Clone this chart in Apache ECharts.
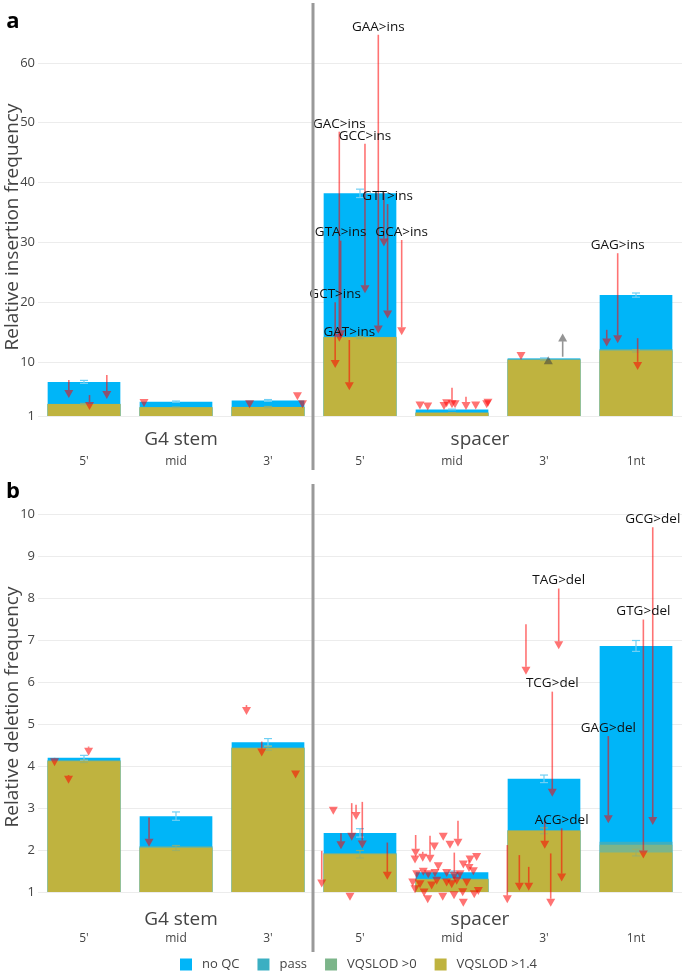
<!DOCTYPE html>
<html><head><meta charset="utf-8">
<script src="https://cdn.jsdelivr.net/npm/echarts@6/dist/echarts.min.js"></script>
<style>html,body{margin:0;padding:0;background:#fff}#c{width:685px;height:974px}</style>
</head><body><div id="c"></div>
<script>
// ---------- data ----------
const categories = ["5'", "mid", "3'", "5'", "mid", "3'", "1nt"];
const seriesNames = ['no QC', 'pass', 'VQSLOD >0', 'VQSLOD >1.4'];

// panel a: insertions
const insTicks = [1, 10, 20, 30, 40, 50, 60];
const insNoQC = [6.7, 3.4, 3.6, 38.2, 2.1, 10.6, 21.2];
const insPass = [3.05, 2.47, 2.55, 14.25, 1.57, 10.55, 12.2];
const insVq0  = [3.02, 2.46, 2.52, 14.2, 1.56, 10.45, 12.05];
const insVq14 = [3.0, 2.45, 2.5, 14.15, 1.55, 10.36, 11.9];
const insErrNoQC = [0.25, 0.1, 0.15, 0.7, 0.05, 0.1, 0.35];
const insErrVq14 = [0.1, 0.05, 0.1, 0.2, 0.03, 0.1, 0.2];

const insArrCat  = [0, 0, 0, 1, 2, 2, 2, 3, 3, 3, 3, 3, 3, 3, 3, 3, 4, 4, 4, 4, 4, 4, 4, 4, 4, 4, 5, 5, 5, 6, 6, 6];
const insArrOff  = [-0.165, 0.248, 0.06, -0.348, -0.2, 0.32, 0.375, -0.225, 0.054, 0.199, 0.30, 0.26, -0.21, -0.27, 0.453, -0.116, 0.0, 0.152, -0.348, -0.264, -0.087, -0.058, 0.033, 0.258, 0.377, 0.391, -0.25, 0.203, 0.047, -0.199, -0.318, 0.018];
const insArrFrom = [7.0, 7.85, 4.5, 3.6, 3.2, 4.8, 3.3, 48.5, 46.5, 64.7, 36.4, 38.3, 30.3, 20.0, 30.4, 13.7, 5.7, 4.2, 3.3, 3.1, 3.2, 3.6, 3.5, 3.3, 3.5, 3.7, 11.0, 10.9, 10.3, 28.2, 15.4, 14.0];
const insArrTo   = [4.0, 3.85, 2.0, 2.5, 2.3, 3.65, 2.3, 13.4, 21.5, 14.8, 17.3, 29.3, 14.0, 9.0, 14.5, 5.3, 2.3, 2.0, 2.1, 1.9, 2.0, 2.45, 2.3, 2.1, 2.3, 2.55, 10.36, 14.8, 11.0, 13.15, 12.6, 8.7];
const insArrLabel = ['', '', '', '', '', '', '', 'GAC>ins', 'GCC>ins', 'GAA>ins', 'GTT>ins', '', 'GTA>ins', 'GCT>ins', 'GCA>ins', 'GAT>ins', '', '', '', '', '', '', '', '', '', '', '', '', '', 'GAG>ins', '', ''];

// panel b: deletions
const delTicks = [1, 2, 3, 4, 5, 6, 7, 8, 9, 10];
const delNoQC = [4.2, 2.81, 4.57, 2.41, 1.47, 3.7, 6.87];
const delPass = [4.15, 2.09, 4.45, 1.93, 1.32, 2.48, 2.2];
const delVq0  = [4.13, 2.08, 4.44, 1.92, 1.31, 2.47, 2.13];
const delVq14 = [4.12, 2.05, 4.43, 1.9, 1.3, 2.46, 1.94];
const delErrNoQC = [0.06, 0.1, 0.09, 0.1, 0.03, 0.09, 0.13];
const delErrVq14 = [0.03, 0.06, 0.05, 0.09, 0.02, 0.07, 0.08];

const delArrCat  = [0, 0, 0, 1, 2, 2, 2, 3, 3, 3, 3, 3, 3, 3, 3,
  4, 4, 4, 4, 4, 4, 4, 4, 4, 4, 4, 4, 4, 4, 4, 4, 4, 4, 4, 4, 4, 4, 4, 4, 4, 4, 4, 4, 4, 4, 4, 4, 4, 4, 4, 4, 4, 4,
  5, 5, 5, 5, 5, 5, 5, 5, 5, 6, 6, 6];
const delArrOff  = [-0.32, -0.168, 0.05, -0.293, -0.234, -0.068, 0.3, -0.29, -0.416, -0.207, -0.09, -0.043, 0.025, 0.297, -0.109,
  -0.395, -0.318, -0.239, 0.065, 0.025, 0.185, -0.095, -0.022, -0.192, 0.268, 0.196, 0.123, -0.149, -0.402, -0.312, 0.232, -0.402, -0.304, -0.264, -0.101, 0.022, 0.123, 0.116, 0.242, 0.286, -0.427, -0.348, -0.221, -0.166, -0.058, -0.003, 0.051, 0.087, 0.16, -0.384, -0.258, -0.058, -0.185,
  0.16, -0.196, 0.09, 0.008, 0.192, -0.399, -0.268, -0.166, 0.073, 0.182, 0.08, -0.301];
const delArrFrom = [4.2, 3.79, 4.47, 2.78, 5.46, 4.59, 3.83, 2.98, 1.98, 2.4, 3.12, 3.08, 3.15, 2.18, 0.95,
  2.36, 1.96, 2.34, 2.70, 1.94, 1.76, 2.37, 2.18, 2.14, 1.89, 1.83, 1.71, 1.67, 1.83, 1.54, 1.55, 1.12, 1.04, 0.88, 0.94, 0.98, 0.80, 1.05, 1.00, 1.08, 1.28, 1.24, 1.21, 1.32, 1.28, 1.24, 1.32, 1.48, 1.28, 1.48, 1.48, 1.51, 1.51,
  8.24, 7.39, 5.78, 2.72, 2.52, 2.12, 1.88, 1.6, 1.92, 9.7, 7.5, 4.72];
const delArrTo   = [4.0, 3.58, 4.25, 2.08, 5.22, 4.23, 3.71, 2.84, 1.11, 2.02, 2.22, 2.72, 2.04, 1.29, 0.79,
  1.84, 1.72, 1.70, 2.08, 1.29, 1.48, 2.22, 2.03, 1.99, 1.74, 1.68, 1.56, 1.52, 1.68, 1.39, 1.40, 0.97, 0.89, 0.73, 0.79, 0.83, 0.65, 0.90, 0.85, 0.93, 1.13, 1.09, 1.06, 1.17, 1.13, 1.09, 1.17, 1.33, 1.13, 1.33, 1.33, 1.36, 1.36,
  6.79, 6.18, 3.27, 2.03, 1.25, 0.73, 1.03, 1.03, 0.65, 2.6, 1.8, 2.64];
const delArrLabel = delArrCat.map(() => '');
delArrLabel[53] = 'TAG>del'; delArrLabel[55] = 'TCG>del'; delArrLabel[57] = 'ACG>del';
delArrLabel[62] = 'GCG>del'; delArrLabel[63] = 'GTG>del'; delArrLabel[64] = 'GAG>del';

// ---------- styling ----------
const FONT = '"Open Sans", sans-serif';
const COLORS = ['#00B5F8', '#3BAFC2', '#7CB58A', '#BFB33F'];

function arrowRenderer() {
  return function (params, api) {
    const c = api.value(0), off = api.value(1), from = api.value(2), to = api.value(3);
    const p0 = api.coord([c, from]);
    const p1 = api.coord([c, to]);
    const bw = api.coord([1, from])[0] - api.coord([0, from])[0];
    const x = p0[0] + off * bw;
    const y0 = p0[1], y1 = p1[1];
    const up = to > from;
    const color = up ? 'rgba(60,60,60,0.55)' : 'rgba(255,0,0,0.55)';
    const dir = up ? -1 : 1;
    const hh = 8, hw = 4.5;
    const base = y1 - dir * hh;
    const children = [];
    if ((y1 - y0) * dir > hh) {
      children.push({ type: 'line', shape: { x1: x, y1: y0, x2: x, y2: base }, style: { stroke: color, lineWidth: 1.6 } });
    }
    children.push({ type: 'polygon', shape: { points: [[x - hw, base], [x + hw, base], [x, y1]] }, style: { fill: color } });
    return { type: 'group', children };
  };
}
function labelRenderer(labels) {
  return function (params, api) {
    const lab = labels[params.dataIndex];
    if (!lab) return null;
    const c = api.value(0), off = api.value(1), from = api.value(2);
    const p0 = api.coord([c, from]);
    const bw = api.coord([1, from])[0] - api.coord([0, from])[0];
    const x = p0[0] + off * bw;
    return { type: 'text', x: x, y: p0[1] - 8, style: { text: lab, fill: '#111', fontSize: 13.5, fontFamily: FONT, align: 'center', verticalAlign: 'middle' } };
  };
}
function errRenderer(color) {
  return function (params, api) {
    const c = api.value(0);
    const lo = api.coord([c, api.value(1)]);
    const hi = api.coord([c, api.value(2)]);
    const x = lo[0];
    const st = { stroke: color, lineWidth: 1.2 };
    return { type: 'group', children: [
      { type: 'line', shape: { x1: x, y1: lo[1], x2: x, y2: hi[1] }, style: st },
      { type: 'line', shape: { x1: x - 4, y1: hi[1], x2: x + 4, y2: hi[1] }, style: st },
      { type: 'line', shape: { x1: x - 4, y1: lo[1], x2: x + 4, y2: lo[1] }, style: st }
    ] };
  };
}

function panelSeries(idx, layers, errNoQC, errVq14, aCat, aOff, aFrom, aTo, aLab) {
  const out = [];
  layers.forEach((vals, k) => {
    out.push({
      name: seriesNames[k], type: 'bar', xAxisIndex: idx, yAxisIndex: idx,
      data: vals, barWidth: '79%', barGap: '-100%', clip: true,
      itemStyle: { color: COLORS[k] }, emphasis: { disabled: true }, z: 2
    });
  });
  const noqc = layers[0], vq = layers[3];
  out.push({ type: 'custom', name: 'err1_' + idx, xAxisIndex: idx, yAxisIndex: idx, z: 3,
    renderItem: errRenderer('#6FCFF4'),
    data: noqc.map((v, i) => [i, v - errNoQC[i], v + errNoQC[i]]) });
  out.push({ type: 'custom', name: 'err2_' + idx, xAxisIndex: idx, yAxisIndex: idx, z: 3,
    renderItem: errRenderer('rgba(150,175,110,0.8)'),
    data: vq.map((v, i) => [i, v - errVq14[i], v + errVq14[i]]) });
  const arrData = aCat.map((c, i) => [c, aOff[i], aFrom[i], aTo[i]]);
  out.push({ type: 'custom', name: 'arrows_' + idx, xAxisIndex: idx, yAxisIndex: idx, z: 5, clip: false,
    renderItem: arrowRenderer(), data: arrData });
  out.push({ type: 'custom', name: 'labels_' + idx, xAxisIndex: idx, yAxisIndex: idx, z: 6, clip: false,
    renderItem: labelRenderer(aLab), data: arrData });
  return out;
}

const xAxisBase = (idx, margin) => ({
  gridIndex: idx, type: 'category', data: categories,
  axisLine: { show: false }, axisTick: { show: false },
  axisLabel: { color: '#444', fontSize: 12, fontFamily: FONT, margin: margin }
});
const yAxisBase = (idx, max, ticks) => ({
  gridIndex: idx, type: 'value', min: 1, max: max,
  axisLine: { show: false }, axisTick: { show: false, customValues: ticks },
  axisLabel: { customValues: ticks, color: '#444', fontSize: 13, fontFamily: FONT, margin: 3 },
  splitLine: { show: true, lineStyle: { color: '#ECECEC', width: 1 } }
});

const gtext = (x, y, text, size, extra) => Object.assign({
  type: 'text', x: x, y: y,
  style: { text: text, fill: '#444', fontSize: size, fontFamily: FONT, align: 'center', verticalAlign: 'middle' }
}, extra || {});

const option = {
  backgroundColor: '#fff',
  animation: false,
  grid: [
    { left: 38, right: 3, top: 3, bottom: 558 },
    { left: 38, right: 3, top: 485.4, bottom: 82 }
  ],
  xAxis: [xAxisBase(0, 40), xAxisBase(1, 41)],
  yAxis: [yAxisBase(0, 70, insTicks), yAxisBase(1, 10.7, delTicks)],
  legend: {
    data: seriesNames, left: 180, top: 958, padding: 0, itemWidth: 12, itemHeight: 12, itemGap: 18,
    icon: 'rect', selectedMode: false,
    textStyle: { color: '#444', fontSize: 13, fontFamily: FONT, padding: [0, 0, 0, 5] }
  },
  graphic: [
    gtext(13, 22, 'a', 22, { style: { text: 'a', fill: '#000', fontSize: 22, fontWeight: 'bold', fontFamily: FONT, align: 'center', verticalAlign: 'middle' } }),
    gtext(13, 492, 'b', 22, { style: { text: 'b', fill: '#000', fontSize: 22, fontWeight: 'bold', fontFamily: FONT, align: 'center', verticalAlign: 'middle' } }),
    gtext(13, 227, 'Relative insertion frequency', 19, { rotation: Math.PI / 2 }),
    gtext(13, 707, 'Relative deletion frequency', 19, { rotation: Math.PI / 2 }),
    gtext(181, 440, 'G4 stem', 19),
    gtext(480, 440, 'spacer', 19),
    gtext(181, 920, 'G4 stem', 19),
    gtext(480, 920, 'spacer', 19),
    { type: 'line', shape: { x1: 313, y1: 3, x2: 313, y2: 470 }, style: { stroke: '#999', lineWidth: 3 }, z: 20 },
    { type: 'line', shape: { x1: 313, y1: 484, x2: 313, y2: 952 }, style: { stroke: '#999', lineWidth: 3 }, z: 20 }
  ],
  series: [].concat(
    panelSeries(0, [insNoQC, insPass, insVq0, insVq14], insErrNoQC, insErrVq14, insArrCat, insArrOff, insArrFrom, insArrTo, insArrLabel),
    panelSeries(1, [delNoQC, delPass, delVq0, delVq14], delErrNoQC, delErrVq14, delArrCat, delArrOff, delArrFrom, delArrTo, delArrLabel)
  )
};

const chart = echarts.init(document.getElementById('c'));
chart.setOption(option);
</script>
</body></html>
